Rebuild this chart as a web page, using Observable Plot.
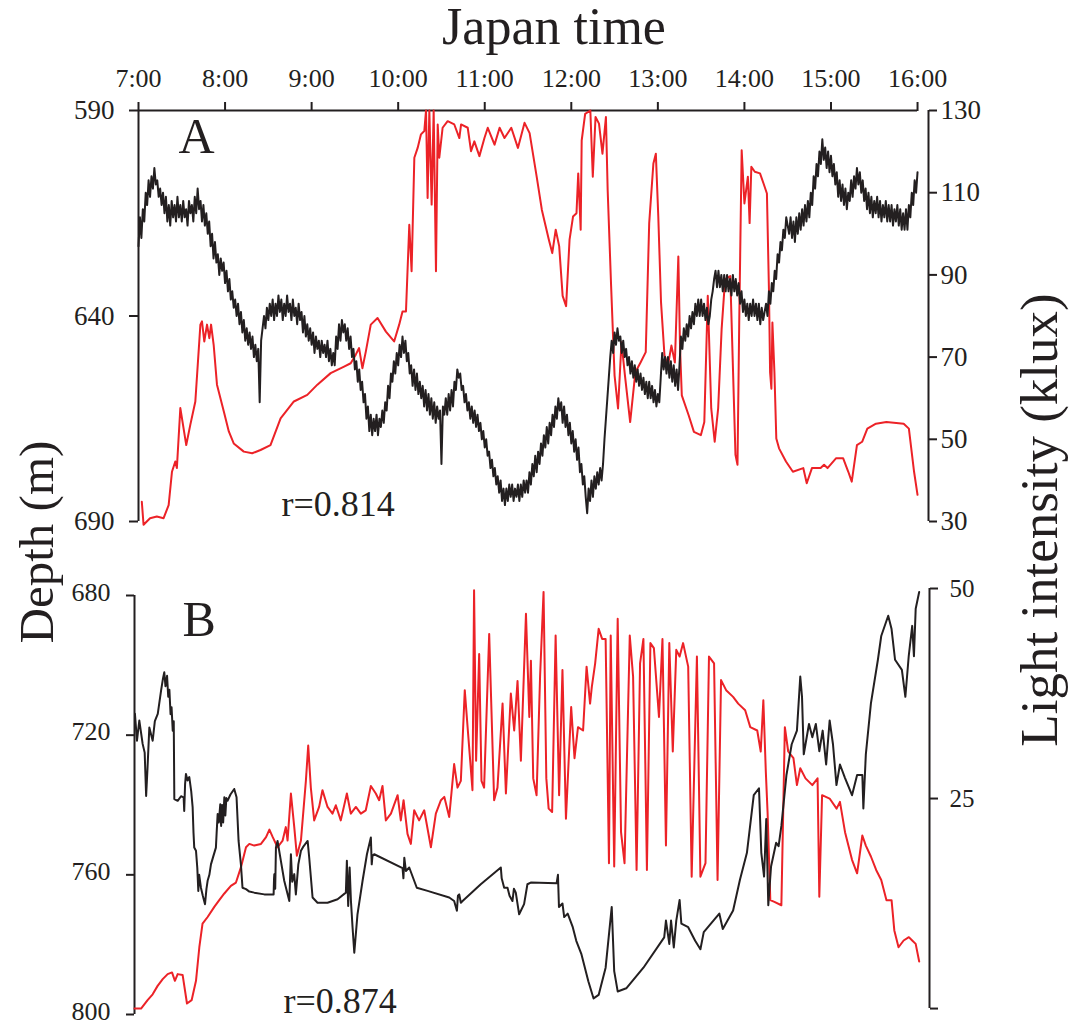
<!DOCTYPE html>
<html><head><meta charset="utf-8">
<script src="https://cdn.jsdelivr.net/npm/d3@7"></script>
<script src="https://cdn.jsdelivr.net/npm/@observablehq/plot@0.6"></script>
<style>
html,body{margin:0;padding:0;background:#fff;overflow:hidden;}
#root{position:relative;width:1071px;height:1025px;font-family:"Liberation Serif","Times New Roman",serif;color:#231f20;}
#root svg{position:absolute;left:0;}
.lab{position:absolute;white-space:nowrap;line-height:1;}
</style></head><body><div id="root"></div>
<script>
// ---- time axis (minutes after 7:00) ----
const hourTicks = [0, 60, 120, 180, 240, 300, 360, 420, 480, 540];
const hourLabels = ["7:00", "8:00", "9:00", "10:00", "11:00", "12:00", "13:00", "14:00", "15:00", "16:00"];

// ---- Panel A ----
const depthTicksA = [590, 640, 690];
const lightTicksA = [30, 50, 70, 90, 110, 130];
// [minutes after 7:00, depth m]
const depthA = [[0,623],[1,616],[2,621],[3,614],[4,617],[5,610],[6,613],[7,607],[8,611],[9,606],[10,609],[11,604],[12,608],[13,607],[14,611],[15,609],[16,613],[17,610],[18,615],[19,611],[20,617],[21,613],[22,618],[23,612],[24,616],[25,613],[26,617],[27,611],[28,616],[29,613],[30,617],[31,612],[32,616],[33,614],[34,618],[35,612],[36,615],[37,613],[38,617],[39,611],[40,615],[41,609],[42,614],[43,612],[44,617],[45,613],[46,618],[47,615],[48,620],[49,617],[50,623],[51,620],[52,626],[53,622],[54,627],[55,625],[56,630],[57,626],[58,629],[59,627],[60,632],[61,629],[62,634],[63,631],[64,636],[65,634],[66,638],[67,636],[68,640],[69,637],[70,642],[71,639],[72,644],[73,641],[74,646],[75,643],[76,647],[77,644],[78,648],[79,645],[80,650],[81,647],[82,651],[83,648],[84,661],[85,646],[86,643],[87,640],[88,643],[89,638],[90,641],[91,637],[92,640],[93,636],[94,641],[95,637],[96,640],[97,635],[98,639],[99,636],[100,641],[101,637],[102,640],[103,635],[104,639],[105,637],[106,641],[107,636],[108,640],[109,638],[110,642],[111,637],[112,641],[113,639],[114,644],[115,640],[116,645],[117,642],[118,646],[119,643],[120,647],[121,644],[122,649],[123,645],[124,648],[125,646],[126,650],[127,646],[128,649],[129,647],[130,650],[131,646],[132,651],[133,648],[134,652],[135,649],[136,652],[137,645],[138,648],[139,642],[140,646],[141,641],[142,644],[143,642],[144,646],[145,643],[146,648],[147,645],[148,650],[149,648],[150,653],[151,651],[152,656],[153,653],[154,658],[155,656],[156,661],[157,659],[158,665],[159,662],[160,668],[161,664],[162,669],[163,665],[164,668],[165,664],[166,669],[167,665],[168,667],[169,663],[170,666],[171,661],[172,663],[173,657],[174,660],[175,654],[176,656],[177,651],[178,654],[179,649],[180,652],[181,647],[182,650],[183,645],[184,649],[185,646],[186,651],[187,649],[188,654],[189,652],[190,657],[191,653],[192,658],[193,654],[194,659],[195,656],[196,660],[197,657],[198,662],[199,658],[200,663],[201,659],[202,664],[203,660],[204,665],[205,661],[206,666],[207,662],[208,665],[209,663],[210,676],[211,662],[212,664],[213,660],[214,664],[215,659],[216,663],[217,658],[218,662],[219,656],[220,658],[221,653],[222,655],[223,654],[224,658],[225,657],[226,661],[227,659],[228,663],[229,661],[230,665],[231,662],[232,666],[233,663],[234,667],[235,664],[236,668],[237,666],[238,670],[239,668],[240,672],[241,670],[242,674],[243,673],[244,677],[245,675],[246,679],[247,677],[248,681],[249,679],[250,683],[251,680],[252,685],[253,682],[254,686],[255,682],[256,685],[257,681],[258,684],[259,681],[260,685],[261,682],[262,684],[263,681],[264,685],[265,681],[266,684],[267,680],[268,683],[269,680],[270,683],[271,678],[272,681],[273,676],[274,679],[275,674],[276,678],[277,673],[278,676],[279,671],[280,674],[281,669],[282,672],[283,667],[284,671],[285,666],[286,669],[287,664],[288,667],[289,662],[290,665],[291,660],[292,663],[293,661],[294,666],[295,662],[296,667],[297,664],[298,669],[299,666],[300,671],[301,668],[302,673],[303,670],[304,675],[305,672],[306,678],[307,676],[308,681],[309,679],[310,684],[311,688],[312,682],[313,685],[314,680],[315,684],[316,679],[317,682],[318,678],[319,681],[320,677],[321,680],[322,676],[323,670],[324,665],[325,660],[326,655],[327,650],[328,646],[329,649],[330,644],[331,647],[332,643],[333,646],[334,645],[335,649],[336,646],[337,650],[338,648],[339,652],[340,650],[341,654],[342,651],[343,655],[344,652],[345,656],[346,653],[347,657],[348,654],[349,658],[350,655],[351,659],[352,656],[353,660],[354,656],[355,660],[356,657],[357,661],[358,658],[359,662],[360,659],[361,661],[362,655],[363,649],[364,653],[365,650],[366,654],[367,650],[368,655],[369,651],[370,656],[371,652],[372,657],[373,653],[374,658],[375,652],[376,645],[377,648],[378,643],[379,646],[380,642],[381,645],[382,640],[383,643],[384,639],[385,642],[386,637],[387,640],[388,636],[389,640],[390,636],[391,640],[392,637],[393,641],[394,638],[395,642],[396,640],[397,636],[398,634],[399,631],[400,629],[401,633],[402,629],[403,633],[404,630],[405,634],[406,630],[407,634],[408,630],[409,634],[410,631],[411,635],[412,630],[413,634],[414,631],[415,635],[416,632],[417,637],[418,634],[419,639],[420,636],[421,640],[422,637],[423,641],[424,637],[425,640],[426,636],[427,640],[428,637],[429,641],[430,637],[431,642],[432,638],[433,641],[434,639],[435,637],[436,640],[437,634],[438,637],[439,632],[440,634],[441,629],[442,631],[443,625],[444,627],[445,622],[446,624],[447,619],[448,621],[449,616],[450,618],[451,620],[452,616],[453,621],[454,617],[455,622],[456,616],[457,620],[458,615],[459,619],[460,614],[461,618],[462,613],[463,617],[464,612],[465,616],[466,610],[467,613],[468,606],[469,609],[470,603],[471,606],[472,600],[473,603],[474,597],[475,602],[476,599],[477,604],[478,600],[479,605],[480,601],[481,606],[482,603],[483,608],[484,605],[485,611],[486,607],[487,612],[488,608],[489,613],[490,609],[491,614],[492,610],[493,612],[494,607],[495,611],[496,606],[497,609],[498,604],[499,608],[500,605],[501,610],[502,607],[503,612],[504,609],[505,614],[506,610],[507,615],[508,611],[509,616],[510,612],[511,615],[512,611],[513,616],[514,612],[515,617],[516,613],[517,616],[518,612],[519,617],[520,613],[521,617],[522,613],[523,618],[524,614],[525,617],[526,613],[527,618],[528,614],[529,619],[530,615],[531,619],[532,614],[533,619],[534,613],[535,616],[536,610],[537,613],[538,607],[539,610],[540,605]];
// [minutes after 7:00, light klux]
const lightA = [[2.3,34.8],[3.5,29.2],[8,30.8],[12.7,31.2],[17.4,30.8],[20.9,34],[23.2,42.1],[25.5,44.6],[26.6,43],[29,57.6],[33.1,48.6],[35.9,53.5],[39.4,59.2],[42.9,77.9],[44,78.7],[45.6,73.8],[47.5,77.9],[49.1,74.6],[50.3,77.9],[52.1,73],[54.4,63.3],[59.1,56.8],[62.6,51.9],[66,49],[73,47],[78.8,46.6],[84.6,47.4],[91.5,48.6],[98.5,55.1],[107.7,59.2],[117,60.8],[124,63.3],[133.2,66.1],[142.5,67.7],[147.1,68.5],[150.6,70.6],[152.9,72.2],[155.2,67.3],[157.6,71.4],[161,77.9],[165.7,79.5],[171.5,76.2],[177.2,73.8],[180.7,77.9],[183,81.1],[185.4,81.1],[187.7,102.2],[189.3,90.9],[191.2,118.5],[193.5,120.9],[195.8,124.2],[198.1,125],[199.3,130],[200.4,108.7],[201.6,130],[203.2,107.1],[204.6,130],[206.2,90.9],[207.4,126.6],[208.5,118.5],[210.8,125.8],[214.3,127.4],[218.9,126.6],[222.4,123.3],[223.6,126.6],[228.2,125.8],[230.5,120.1],[232.8,122.5],[236.3,118.9],[239.8,123.3],[242.1,125.8],[246.8,121.7],[250.3,125.8],[253.7,123.3],[258.4,125.8],[263,120.9],[267.6,127],[271.1,124.5],[276,113.9],[279.6,105.8],[284.4,98.6],[286.8,95.3],[289.2,101],[291.6,97],[294,84.9],[296.4,82.4],[298.8,98.6],[301.2,104.2],[303.6,105],[304.8,114.7],[306.5,101],[307.2,122.7],[309.6,129.2],[313.2,130],[314.9,113.9],[316.8,128.4],[319.2,126.8],[321.6,119.5],[324,128.4],[325.2,110.7],[327.6,87.3],[330,65.5],[332.4,57.5],[334.8,73.6],[337.2,65.5],[340.8,54.2],[344.4,66.3],[348,68.7],[351.6,71.2],[354,102.6],[356.9,117.1],[358.6,119.5],[360.3,104.2],[362.2,83.3],[364.6,70.4],[367,68],[369.4,72.8],[371.8,68.7],[374.2,94.5],[375.4,72],[376.6,60.7],[381.4,55.8],[385,51.8],[389.8,51],[392.2,54.2],[394.6,84.9],[397,57.5],[399.4,49.4],[401.8,57.5],[404.2,76.8],[406.6,88.9],[410.2,89.7],[413.8,46.2],[415.2,43.8],[416.4,78.4],[418.1,120.3],[420,107.4],[422.4,113.9],[423.6,102.6],[424.8,116.3],[427.2,115.1],[430.8,114.7],[433.2,112.3],[435.6,109.8],[437,86.5],[437.8,66.3],[438.7,62.3],[439.4,78.4],[440.8,66.3],[442.1,50.2],[444,47.8],[448.8,44.6],[453.6,42.1],[460.8,43],[463.2,39.3],[466.8,43],[472.8,43],[475.2,43.8],[477.6,43],[483.6,45.4],[488.4,45.4],[492,42.1],[494.4,39.7],[498,48.6],[501.6,49.4],[505.2,52.6],[511.2,53.8],[518.4,54.2],[530.4,53.8],[534,52.6],[537.6,42.1],[540,36.5]];

// ---- Panel B ----
const depthTicksB = [680, 720, 760, 800];
const lightTicksB = [0, 25, 50];
const lightTickLabelsB = ["", "25", "50"];
// [minutes after 7:00, depth m]
const depthB = [[0.3,713.9],[1.7,721.6],[3.3,715.8],[5.6,722.5],[7,725],[8,737.4],[9,729],[10.2,717.8],[12.5,721.6],[14,716],[16,713.9],[18.3,707.2],[19.5,704],[20.5,702],[21.3,706],[22.4,703],[23.2,709],[24,707],[24.8,714],[25.5,712],[26.3,718.7],[27,716],[27.4,738.3],[29.7,738.8],[32,737.5],[33.8,737.8],[34.2,741.7],[34.8,734],[35.4,731.1],[36.5,733],[37.7,732],[39,736],[40,740.7],[40.6,748],[41.1,752.2],[42.3,753.1],[43.2,758],[43.9,764.6],[44.5,760],[45.7,763.7],[47,766],[48.5,768.4],[49.5,764],[50.3,761.7],[51.5,760],[52.6,757],[54,755],[56,752.2],[56.5,748],[57.2,742.6],[58,745],[59,739.8],[59.6,746],[60.3,740],[61,745],[61.8,737.8],[62.5,743],[63.2,738],[64,738.8],[66,737],[68.6,735.4],[70.2,737.8],[71.6,750.3],[73.2,757],[74.3,763.7],[76.7,764.1],[79,764.8],[82.4,765.1],[89.3,765.6],[95.7,765.6],[96,761],[96.2,759.8],[96.8,764],[97.3,752.2],[98.4,750.3],[100.7,756],[103,761.7],[106.5,767.5],[107.6,754.1],[108.5,762],[109.9,759.8],[111,765.6],[112.7,757],[114.5,753.1],[116,752],[119.1,750.3],[120.2,755.1],[122.5,766.5],[125.9,768],[132.8,768],[139.7,767],[145.4,765.1],[146.1,756],[147,768.9],[148,757.9],[148.9,767.5],[150,775],[151.2,782.3],[153.4,771.3],[156.9,761.7],[159.9,754.1],[162.6,749.3],[163.2,757],[163.7,754.6],[164.9,754.1],[184.4,758.1],[185,761],[185.6,755.1],[186.7,758.9],[189,757.9],[194.2,763.7],[201.6,764.6],[216.5,766.5],[219.9,767.5],[221.8,770.3],[222.5,766],[223.4,765.6],[224.5,768],[225.7,767.5],[238.2,762.7],[252,757.9],[252.6,761],[254.3,763.7],[256.6,763.7],[258,766],[260,767.5],[261,764],[262.3,765.1],[264.6,771.3],[268,768.4],[270.3,762.7],[272.6,762.2],[290.4,762.4],[291.3,760],[292,769.2],[294.4,768.2],[295.6,772.1],[298,771.1],[301.5,775],[303.9,778.9],[307.5,782.8],[312.2,790.5],[315.8,795.4],[319.3,794.4],[324.1,786.6],[328.3,769.2],[330,787.6],[332.4,793.4],[338.3,792.5],[350.1,786.6],[364.4,777.9],[365.6,773.1],[367.9,779.8],[369.1,773.1],[371,780.8],[372.7,773.1],[375,767.2],[376.2,774],[380.9,775],[385.7,778.9],[389.3,781.3],[391.6,776.4],[402.3,771.1],[404.7,775.5],[411.8,770.2],[416.5,761.4],[421.3,753.7],[426,737.2],[429.6,735.2],[431.2,753.7],[433.1,760.5],[434.6,744],[436,768.7],[437.9,757.6],[441.4,750.8],[443.1,751.8],[445,746],[448.5,731.4],[452.1,722.6],[455.7,718.7],[458,703.2],[459.2,709],[460.4,725.5],[461.6,722.6],[464,716.8],[466.3,720.6],[468.7,716.8],[471.1,724.6],[473.4,718.7],[475.8,728.4],[478.2,715.8],[480.5,722.6],[482.9,734.3],[485.3,728.4],[488.8,732.3],[493.6,737.2],[497.1,731.4],[500.7,731.4],[501.4,741],[503.1,725.5],[506.6,710.9],[511.4,698.4],[513.7,691.6],[518.5,685.8],[520.8,689.6],[523.2,698.4],[527.9,701.3],[530.3,709],[532.6,697.4],[535,688.7],[536.2,697.4],[537.4,683.8],[539.8,679]];
// [minutes after 7:00, light klux]
const lightB = [[0,0],[4.5,0],[9,1],[12.5,1.7],[15.9,2.7],[19.4,3.5],[22.8,4.1],[25.8,4.3],[27.8,3.3],[29.7,4.1],[33.1,4],[36.1,0.6],[39.3,1],[42.3,3.3],[44.6,7.3],[46.8,10.1],[50.3,10.9],[54.9,12.1],[58.3,12.9],[61.8,13.7],[66.3,14.6],[69.8,15],[73.2,16.8],[76.7,19.2],[79,19.6],[82.4,19.4],[87,19.6],[90.5,20.4],[92.8,21.3],[95.1,20.4],[98.4,19.2],[101.9,20],[104.1,21.6],[105.3,20],[107.6,25.6],[109.9,21.6],[111.7,18.2],[114.5,20],[117.9,27.1],[119.5,31.3],[121.3,26.3],[123.6,22.4],[127,24],[129.3,26],[132.8,24],[136.2,23.2],[138.5,24.2],[141.9,22.4],[146.1,25.6],[148.8,23.2],[152.3,24],[155.7,23.2],[159.1,23.6],[162.6,26.5],[166,25.6],[168.3,24.8],[170.6,26.5],[172.9,22.4],[176.4,23.2],[181,25.4],[183.2,22.4],[185.1,24.8],[187.8,20.8],[190.1,19.6],[192.4,23.6],[195.8,22.4],[199.3,23.6],[203.9,19.2],[207.3,23.2],[210.8,24.8],[213.1,25.2],[216.5,22.8],[219.9,29.1],[222.2,26.3],[224.5,27.1],[227.2,37.9],[229.5,32.7],[232.5,26],[233.6,49.8],[235,29.5],[237.1,42.2],[238.7,27.1],[240.5,26.3],[244,44.6],[247.4,24.8],[249.7,26.3],[253.2,36.3],[255.5,25.6],[258.9,37.5],[261.2,33.1],[263.5,39],[265.8,29.5],[269.3,47],[271.6,34.7],[272.7,41.4],[274.3,27.4],[276.6,25.4],[279,39.5],[281.4,49.6],[283.3,27.4],[284.9,23.8],[287.3,23.4],[289.7,44.4],[292.1,25.4],[294.4,40.3],[296.8,22.6],[300.4,35.9],[302.7,29.8],[305.1,33.5],[308.6,33.1],[311,40.7],[313.4,36.3],[314.6,38.3],[316.9,41.1],[319.3,45.2],[321.7,44],[324.1,44],[326.4,17.3],[327.6,44.4],[330,16.9],[332.4,46.4],[334.7,21],[337.1,17.3],[340.7,44.4],[343,39.5],[345.4,16.5],[347.8,41.1],[350.1,44],[352.5,16.5],[354.9,43.5],[357.3,42.9],[360.8,34.7],[363.2,44],[365.6,19.4],[367.9,43.5],[370.3,30.6],[372.7,42.7],[375,41.9],[377.4,43.5],[380.9,40.7],[383.3,15.7],[386.9,41.9],[389.3,15.7],[392.8,17.3],[395.2,41.9],[398.7,41.1],[401.1,15.3],[403.5,39.1],[407,37.9],[411.8,37.1],[415.3,36.3],[420.1,35.5],[423.6,33.5],[428.4,33.1],[430.8,30.6],[432.6,36.7],[434.3,28.2],[435.5,23.4],[437.4,12.9],[440.2,12.7],[445,12.3],[447.4,33.5],[449.7,30.6],[453.3,29.8],[455.7,26.6],[458,28.6],[461.6,27.4],[466.3,26.6],[469.9,27.4],[471.1,13.3],[473,25.4],[478.2,25],[483,23.8],[485.3,24.6],[488.8,21],[493.6,17.7],[497.1,16.1],[500.7,20.6],[503.1,19.4],[506.6,18.1],[510.2,16.5],[513.7,15.3],[517.3,12.9],[520.8,12.9],[522.7,9.3],[525.6,7.3],[529.1,8.1],[532.7,8.5],[535,8.1],[537.4,7.7],[539.8,5.6]];

const corrA = "r=0.814", corrB = "r=0.874";

// ---------------- drawing ----------------
const INK = "#231f20", RED = "#ec2227", FONT = "Liberation Serif, Times New Roman, serif";
const root = document.getElementById("root");

// Panel A: light mapped onto the depth scale (130 klux at 590 m, 30 klux at 690 m)
const lightToDepthA = d3.scaleLinear().domain([30, 130]).range([690, 590]);
const xMaxA = 547.6;
const plotA = Plot.plot({
  width: 1071, height: 490,
  marginTop: 50, marginBottom: 29, marginLeft: 138, marginRight: 143,
  style: {background: "transparent", fontFamily: FONT, color: INK},
  x: {domain: [0, xMaxA]},
  y: {domain: [590, 690], reverse: true},
  marks: [
    Plot.ruleY([590], {x1: 0, x2: 540, stroke: INK, strokeWidth: 2}),
    Plot.ruleX([0], {y1: 590, y2: 690, stroke: INK, strokeWidth: 2}),
    Plot.ruleX([xMaxA], {y1: 590, y2: 690, stroke: INK, strokeWidth: 2}),
    Plot.axisX({anchor: "top", ticks: hourTicks, tickFormat: d => hourLabels[hourTicks.indexOf(d)],
      tickSize: 9, tickPadding: 15, fontSize: 26, strokeWidth: 2, label: null}),
    Plot.axisY({anchor: "left", ticks: depthTicksA, tickFormat: d => String(d),
      tickSize: 9, tickPadding: 15, fontSize: 27, strokeWidth: 2, label: null}),
    Plot.axisY({anchor: "right", ticks: lightTicksA.map(lightToDepthA),
      tickFormat: d => String(Math.round(lightToDepthA.invert(d))),
      tickSize: 8, tickPadding: 4, fontSize: 27, strokeWidth: 2, label: null}),
    Plot.line(lightA, {x: d => d[0], y: d => lightToDepthA(d[1]), stroke: RED, strokeWidth: 2}),
    Plot.line(depthA, {x: d => d[0], y: d => d[1], stroke: INK, strokeWidth: 2}),
    Plot.text(["A"], {frameAnchor: "top-left", dx: 40, dy: 7, fontSize: 50, fill: INK}),
    Plot.text([corrA], {frameAnchor: "bottom-left", dx: 143, dy: -6, fontSize: 36, fill: INK})
  ]
});
plotA.style.top = "60px";
root.appendChild(plotA);

// Panel B: light mapped onto the depth scale (50 klux at 678 m, 0 klux at 798.3 m)
const lightToDepthB = d3.scaleLinear().domain([0, 50]).range([798.3, 678.0]);
const xMaxB = 546.9;
const plotB = Plot.plot({
  width: 1071, height: 475,
  marginTop: 45, marginBottom: 11, marginLeft: 134, marginRight: 142,
  style: {background: "transparent", fontFamily: FONT, color: INK},
  x: {domain: [0, xMaxB], axis: null},
  y: {domain: [680, 800], reverse: true},
  marks: [
    Plot.ruleX([0], {y1: 680, y2: 800, stroke: INK, strokeWidth: 2}),
    Plot.ruleX([xMaxB], {y1: lightToDepthB(0), y2: lightToDepthB(50), stroke: INK, strokeWidth: 2}),
    Plot.axisY({anchor: "left", ticks: depthTicksB, tickSize: 8, strokeWidth: 2, fill: "none", label: null}),
    Plot.text(depthTicksB, {y: d => d, text: d => String(d), frameAnchor: "left", textAnchor: "end",
      dx: -24, dy: -3, fontSize: 26, fill: INK}),
    Plot.axisY({anchor: "right", ticks: lightTicksB.map(lightToDepthB),
      tickFormat: d => lightTickLabelsB[lightTicksB.indexOf(Math.round(lightToDepthB.invert(d)))],
      tickSize: 8, tickPadding: 12, fontSize: 25, strokeWidth: 2, label: null}),
    Plot.line(lightB, {x: d => d[0], y: d => lightToDepthB(d[1]), stroke: RED, strokeWidth: 2}),
    Plot.line(depthB, {x: d => d[0], y: d => d[1], stroke: INK, strokeWidth: 2}),
    Plot.text(["B"], {frameAnchor: "top-left", dx: 48, dy: 4.5, fontSize: 50, fill: INK}),
    Plot.text([corrB], {frameAnchor: "bottom-left", dx: 149, dy: -2, fontSize: 36, fill: INK})
  ]
});
plotB.style.top = "550px";
root.appendChild(plotB);

// Titles / axis labels
function addLabel(text, css) {
  const d = document.createElement("div");
  d.className = "lab";
  d.textContent = text;
  Object.assign(d.style, css);
  root.appendChild(d);
}
addLabel("Japan time", {left: "554px", top: "1px", fontSize: "52px", transform: "translateX(-50%)"});
addLabel("Depth (m)", {left: "36px", top: "542px", fontSize: "49px", transform: "translate(-50%,-50%) rotate(-90deg)"});
addLabel("Light intensity (klux)", {left: "1039px", top: "520px", fontSize: "53px", transform: "translate(-50%,-50%) rotate(-90deg)"});
</script></body></html>
